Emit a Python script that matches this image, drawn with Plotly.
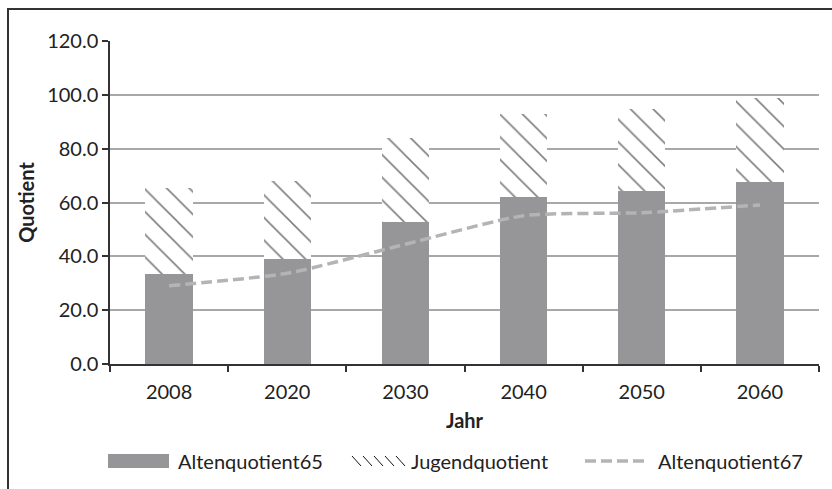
import plotly.graph_objects as go

years = ["2008", "2020", "2030", "2040", "2050", "2060"]
alten65 = [33.5, 39.0, 52.8, 62.1, 64.3, 67.7]
jugend = [31.8, 29.0, 31.3, 30.8, 30.4, 31.0]
alten67 = [29.1, 33.7, 44.5, 55.1, 56.2, 59.1]
y_ticks = [0, 20, 40, 60, 80, 100, 120]
series_names = ["Altenquotient65", "Jugendquotient", "Altenquotient67"]

FONT = "Lato"
FS = 20
BAR_COLOR = "#969698"
LINE_COLOR = "#b4b4b6"
DASH = "11px,5px"

# plot area in pixels (for decoration layout only)
L, T, W, H = 110, 41, 709, 323


def px(x):
    return (x - L) / W


def py(y):
    return (T + H - y) / H


fig = go.Figure()
fig.add_trace(go.Bar(
    x=years, y=alten65, name=series_names[0],
    marker=dict(color=BAR_COLOR, line=dict(width=0)),
))
fig.add_trace(go.Bar(
    x=years, y=jugend, name=series_names[1],
    marker=dict(color="white", line=dict(width=0),
                pattern=dict(shape="\\", fgcolor="#000000", bgcolor="white",
                             size=16, solidity=0.1)),
))
fig.add_trace(go.Scatter(
    x=years, y=alten67, name=series_names[2], mode="lines",
    line=dict(color=LINE_COLOR, width=3.5, dash=DASH, shape="spline", smoothing=0.6),
))

# custom legend (Excel-style wide symbols)
ly = 461
shapes = [
    dict(type="rect", xref="paper", yref="paper",
         x0=px(8), x1=px(845), y0=py(500), y1=py(9),
         line=dict(color="#333333", width=2), layer="below"),
    dict(type="rect", xref="paper", yref="paper",
         x0=px(108), x1=px(169), y0=py(468), y1=py(454),
         fillcolor=BAR_COLOR, line=dict(width=0)),
    dict(type="line", xref="paper", yref="paper",
         x0=px(585), x1=px(646), y0=py(ly), y1=py(ly),
         line=dict(color=LINE_COLOR, width=3.5, dash=DASH)),
]
for hx in [352, 363, 374, 385, 396]:
    shapes.append(dict(type="line", xref="paper", yref="paper",
                       x0=px(hx), x1=px(hx + 9), y0=py(456), y1=py(466),
                       line=dict(color="#111111", width=1)))
annotations = []
for name, tx in zip(series_names, [176, 409, 656]):
    annotations.append(dict(text=name, xref="paper", yref="paper", x=px(tx), y=py(ly),
                            xanchor="left", yanchor="middle", showarrow=False,
                            font=dict(size=FS, family=FONT, color="#222222")))

fig.update_layout(
    width=832, height=489,
    barmode="stack", bargap=0.6,
    paper_bgcolor="white", plot_bgcolor="white",
    margin=dict(l=L, r=832 - L - W, t=T, b=489 - T - H),
    font=dict(family=FONT, size=FS, color="#222222"),
    showlegend=False,
    shapes=shapes,
    annotations=annotations,
)
fig.update_xaxes(
    type="category", showline=True, linecolor="#333333", linewidth=1.5,
    ticks="outside", tickson="boundaries", ticklen=6, tickcolor="#333333", tickwidth=1.5,
    ticklabelstandoff=9,
    showgrid=False,
    title=dict(text="<b>Jahr</b>", font=dict(size=FS), standoff=12),
)
fig.update_yaxes(
    range=[0, 120], tickvals=y_ticks, tickformat=".1f",
    showline=True, linecolor="#333333", linewidth=1.5,
    ticks="outside", ticklen=6, tickcolor="#333333", tickwidth=1.5,
    showgrid=True, gridcolor="#a8a8a8", gridwidth=1.5, zeroline=False,
    title=dict(text="<b>Quotient</b>", font=dict(size=FS), standoff=7),
)
fig.write_html("out.html")
